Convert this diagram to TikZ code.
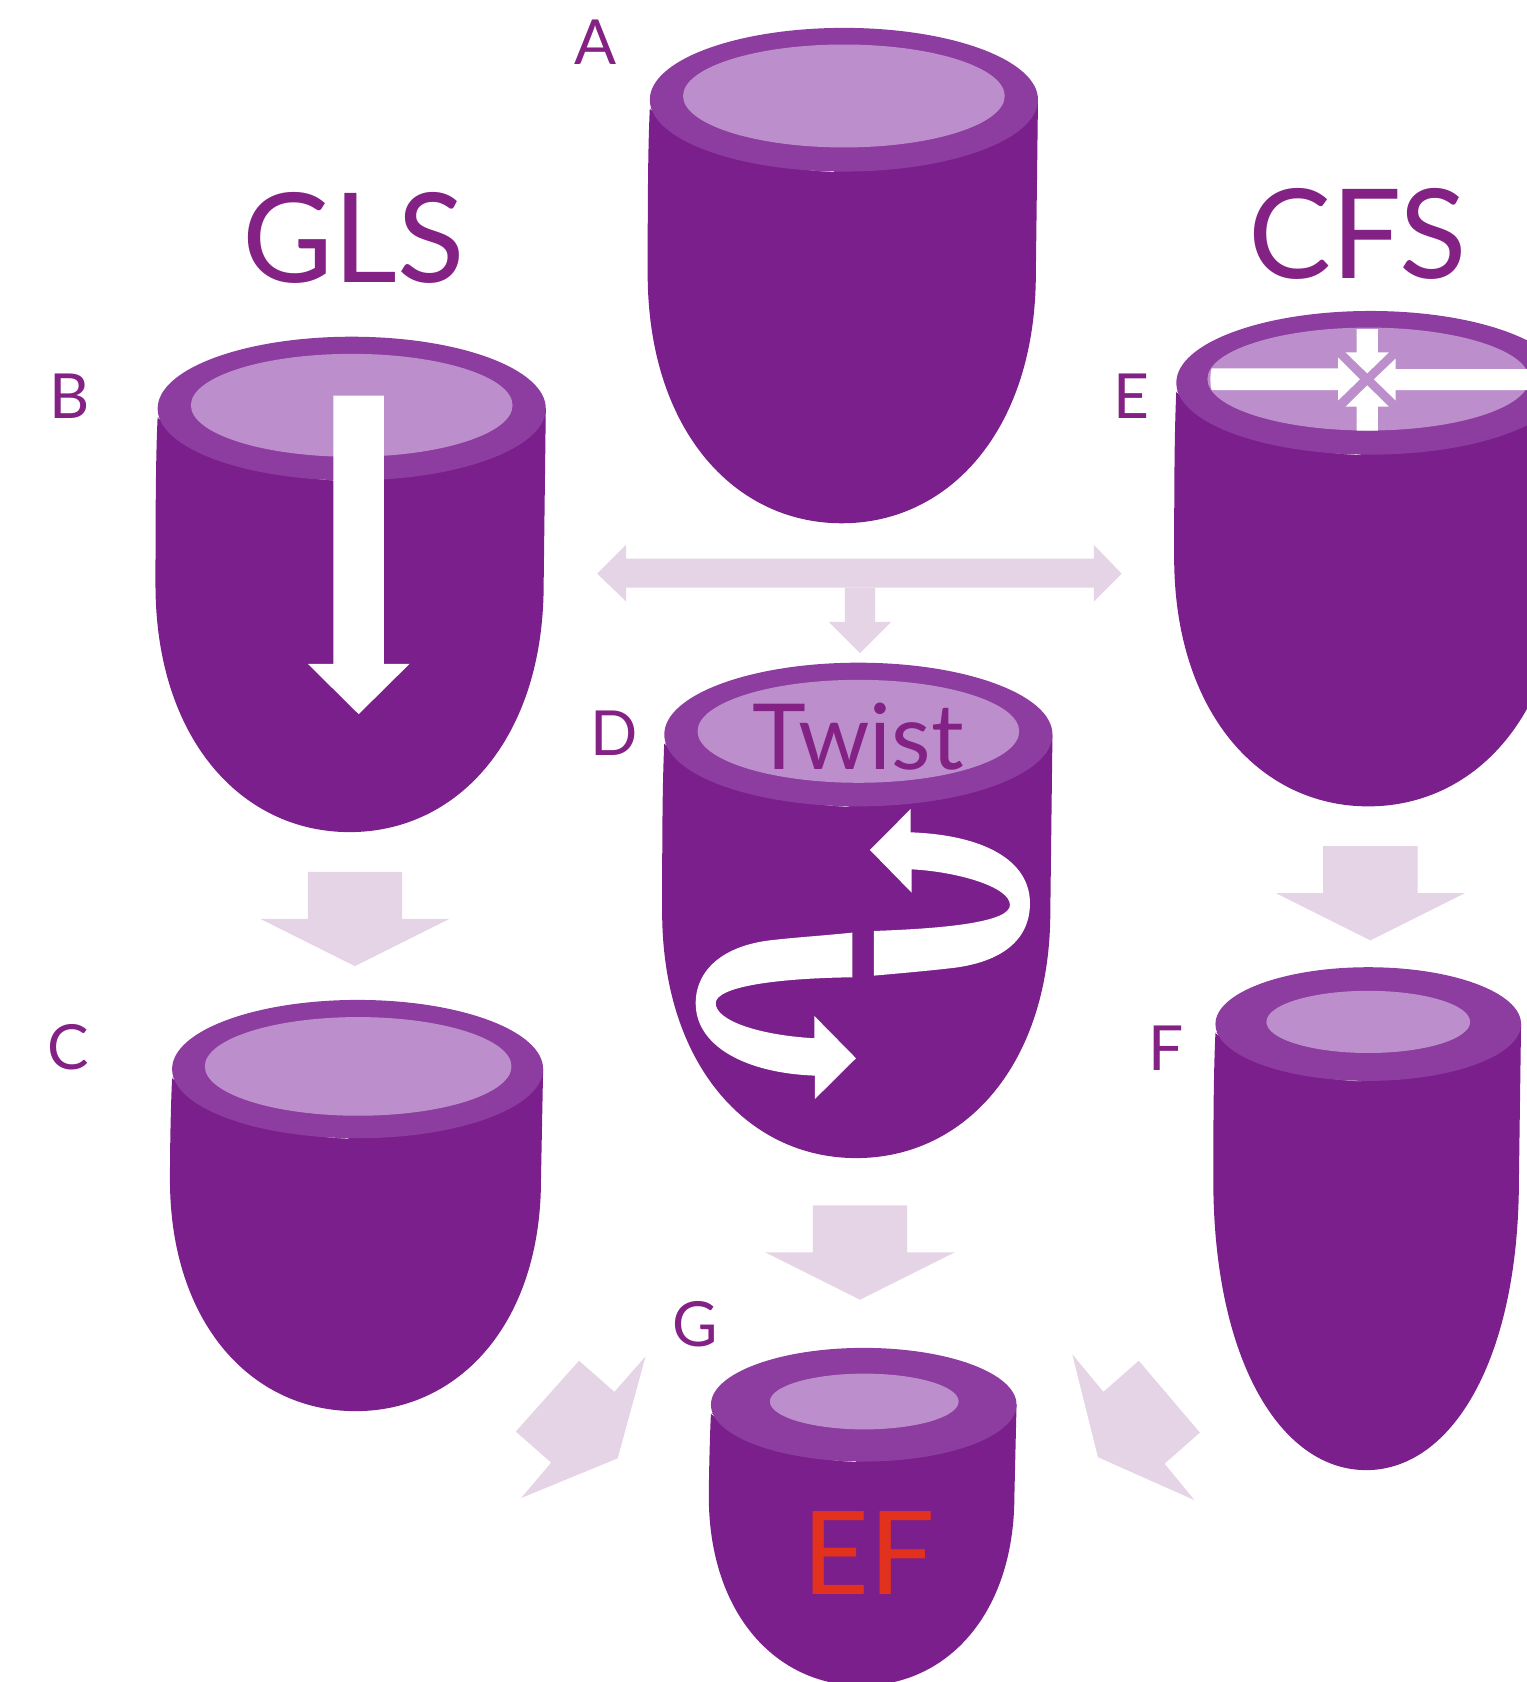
\documentclass[tikz,border=0pt]{standalone}
\usepackage{fontspec}
\setmainfont{Lato}
\definecolor{cupbody}{HTML}{7A1F8B}
\definecolor{cuprim}{HTML}{8D3C9F}
\definecolor{cupmouth}{HTML}{BC8FCC}
\definecolor{inktext}{HTML}{832184}
\definecolor{flowpale}{HTML}{E5D3E6}
\definecolor{efred}{HTML}{E2311D}
\tikzset{
  bodyfill/.style={fill=cupbody},
  rimfill/.style={fill=cuprim},
  mouthfill/.style={fill=cupmouth},
  paleflow/.style={fill=flowpale},
  whiteflow/.style={fill=white},
  biglabel/.style={anchor=base,text=inktext,inner sep=0pt,font=\fontsize{58}{58}\selectfont},
  letterlabel/.style={anchor=base,text=inktext,inner sep=0pt,font=\fontsize{29}{29}\selectfont},
}
% A ventricle: body, rim ellipse, mouth ellipse, hairline on the lower-left rim.
% #1,#2 rim centre; #3,#4 rim radii; #5,#6 mouth centre; #7,#8 mouth radii;
% #9 depth where the wall starts to curve; #10 lowest point
\newcommand{\ventricle}[9]{\ventricleB{#1}{#2}{#3}{#4}{#5}{#6}{#7}{#8}{#9}}
\newcommand{\ventricleB}[9]{%
  \def\vA{#1}\def\vB{#2}\def\vC{#3}\def\vD{#4}\def\vE{#5}\def\vF{#6}\def\vG{#7}\def\vH{#8}\def\vI{#9}%
  \ventricleC}
\newcommand{\ventricleC}[1]{%
  \fill[bodyfill]
    ({\vA-\vC},{\vB+8}) .. controls ({\vA-\vC-1.5},{\vB+40}) and ({\vA-\vC-2},{\vB+80}) .. ({\vA-\vC-2},{\vI})
    .. controls ({\vA-\vC-2},{\vI+0.62*(#1-\vI)}) and ({\vA-2-0.56*\vC},#1) .. ({\vA-2},#1)
    .. controls ({\vA-2+0.56*\vC},#1) and ({\vA+\vC-2},{\vI+0.62*(#1-\vI)}) .. ({\vA+\vC-2},{\vI})
    -- ({\vA+\vC},{\vB}) -- cycle;
  \draw[white,line width=0.35pt] ({\vA-\vC},{\vB+8}) .. controls ({\vA-0.7*\vC},{\vB+0.72*\vD}) and ({\vA-0.35*\vC},{\vB+0.97*\vD}) .. ({\vA-0.05*\vC},{\vB+\vD});
  \fill[rimfill] (\vA,\vB) ellipse [x radius=\vC,y radius=\vD];
  \fill[mouthfill] (\vE,\vF) ellipse [x radius=\vG,y radius=\vH];
}
\begin{document}
\begin{tikzpicture}[x=0.5pt,y=-0.5pt]
\useasboundingbox (0,0) rectangle (1424,1568.6);
\clip (0,0) rectangle (1424,1568.6);

% Ventricles
\ventricle{787}{93}{181}{67}{787}{89.5}{150}{48}{255}{488}
\ventricle{328}{381}{181}{67}{328}{378}{150}{48}{545}{776}
\ventricle{333.5}{997}{173}{64.5}{334}{994.5}{143}{46}{1100}{1316}
\ventricle{800.5}{685}{181}{67}{800.5}{682}{150}{48}{850}{1080}
\ventricle{1278}{357}{181}{67}{1276}{353.5}{150}{48}{520}{752}
\ventricle{1276}{955}{142.5}{53}{1276}{953}{95}{29}{1100}{1371}
\ventricle{805.5}{1310}{142.5}{53}{806}{1307}{88}{26}{1395}{1572}

% Longitudinal shortening arrow
\fill[whiteflow] (311,369) -- (358,369) -- (358,619) -- (382,619) -- (334.5,666) -- (287,619) -- (311,619) -- cycle;

% Circumferential shortening arrows on the mouth of E
\begin{scope}[shift={(1072.4,279.8)},x=0.1554pt,y=-0.1554pt]
  \fill[whiteflow] (185,205) -- (565,205) -- (565,173) -- (630,238) -- (565,301) -- (565,270) -- (185,270) .. controls (180,250) and (180,225) .. (185,205) -- cycle;
  \fill[whiteflow] (1135,207) -- (737,207) -- (737,176) -- (672,238) -- (737,301) -- (737,270) -- (1135,270) -- cycle;
  \fill[whiteflow] (620,87) -- (684,87) -- (684,157) -- (717,157) -- (652,220) -- (587,157) -- (620,157) -- cycle;
  \fill[whiteflow] (620,392) -- (684,392) -- (684,320) -- (717,320) -- (652,256) -- (587,320) -- (620,320) -- cycle;
\end{scope}

% Twist arrows on D
\begin{scope}[shift={(606.2,606.2)},x=0.1554pt,y=-0.1554pt]
  \fill[whiteflow] (672,843) .. controls (900,835) and (1080,815) .. (1080,765)
    .. controls (1080,710) and (920,665) .. (785,658) -- (785,728) -- (660,600) -- (782,477) -- (782,547)
    .. controls (1000,555) and (1140,630) .. (1140,760)
    .. controls (1140,880) and (1040,940) .. (900,955)
    .. controls (830,963) and (750,970) .. (672,977) -- cycle;
  \fill[whiteflow] (607,848) .. controls (520,857) and (440,862) .. (370,870)
    .. controls (220,885) and (137,960) .. (137,1060)
    .. controls (137,1190) and (290,1270) .. (495,1277) -- (495,1347) -- (618,1225) -- (493,1098) -- (493,1165)
    .. controls (320,1155) and (197,1110) .. (197,1060)
    .. controls (197,1010) and (380,985) .. (607,982) -- cycle;
\end{scope}

% Pale flow arrows between the stages
\fill[paleflow] (557,535) -- (584,508) -- (584,521) -- (1020,521) -- (1020,508) -- (1046,535) -- (1020,561) -- (1020,548) -- (584,548) -- (584,561) -- cycle;
\fill[paleflow] (788,548) -- (816,548) -- (816,580) -- (831,580) -- (802,609) -- (773,580) -- (788,580) -- cycle;
\fill[paleflow] (287,813) -- (375,813) -- (375,857) -- (419,857) -- (331,901) -- (243,857) -- (287,857) -- cycle;
\fill[paleflow] (1234,789) -- (1322,789) -- (1322,833) -- (1366,833) -- (1278,877) -- (1190,833) -- (1234,833) -- cycle;
\fill[paleflow] (758,1124) -- (846,1124) -- (846,1168) -- (890,1168) -- (802,1212) -- (714,1168) -- (758,1168) -- cycle;
\fill[paleflow] (540,1269) -- (573,1298) -- (602,1265) -- (576,1360) -- (486,1397) -- (514,1364) -- (481,1335) -- cycle;
\fill[paleflow] (1062,1269) -- (1029,1298) -- (1000,1263) -- (1024,1359) -- (1114,1399) -- (1086,1365) -- (1119,1336) -- cycle;

% Titles and stage letters
\node[biglabel] (gls) at (330,263) {GLS};
\node[biglabel] (cfs) at (1266,260) {CFS};
\node[anchor=base,text=inktext,inner sep=0pt,font=\fontsize{42.5}{42.5}\selectfont] (twist) at (800,718) {Twist};
\node[anchor=base,text=efred,inner sep=0pt,font=\fontsize{54}{54}\selectfont] (ef) at (810,1487) {EF};
\node[letterlabel] (la) at (555,60) {A};
\node[letterlabel] (lb) at (65,390) {B};
\node[letterlabel] (lc) at (64,997) {C};
\node[letterlabel] (ld) at (573,705) {D};
\node[letterlabel] (le) at (1055,390) {E};
\node[letterlabel] (lf) at (1087,998) {F};
\node[letterlabel] (lg) at (648,1256) {G};
\end{tikzpicture}
\end{document}
